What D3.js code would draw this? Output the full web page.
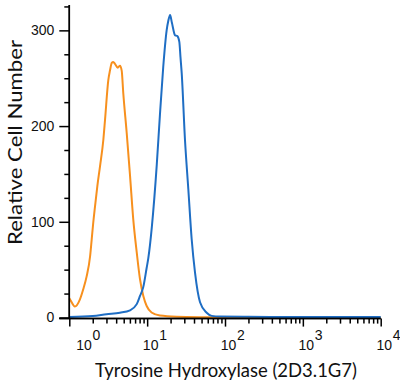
<!DOCTYPE html>
<html>
<head>
<meta charset="utf-8">
<script src="https://cdn.jsdelivr.net/npm/d3@7"></script>
<style>
  html, body { margin: 0; padding: 0; background: #fff; }
  svg { display: block; }
</style>
</head>
<body>
<svg id="chart" width="400" height="387"></svg>
<script>
// ---- Data (fluorescence intensity, relative cell number) ----
const isotypeX = [1.0, 1.02, 1.18, 1.37, 1.51, 1.67, 1.85, 1.94, 2.03, 2.14, 2.29, 2.48, 2.74, 2.88, 3.17, 3.33, 3.51, 3.67, 3.86, 4.19, 4.48, 4.71, 4.94, 5.46, 6.03, 6.64, 7.35, 8.09, 8.93, 9.86, 11.4, 14.6, 24, 58, 160, 1000, 10000];
const isotypeY = [20, 19, 11.5, 19, 29.5, 43, 64, 81.7, 99, 116, 137, 158, 186, 207, 248, 258, 266, 267, 265, 261, 263, 258, 234, 193, 148, 102, 68, 40, 22.5, 12, 5.2, 2, 0.8, 0.3, 0, 0, 0];

const antibodyX = [1.0, 2.0, 3.0, 4.47, 6.03, 7.35, 8.09, 8.93, 9.86, 10.35, 11.5, 13.3, 14.6, 16.1, 17.8, 18.7, 19.7, 20.8, 22.8, 24.4, 25.9, 26.8, 27.8, 30.6, 33.8, 37.3, 41.2, 47.8, 58.2, 67.5, 86.3, 200, 1000, 10000];
const antibodyY = [0.5, 1.5, 3.4, 5, 7.5, 14, 22.5, 32, 52, 62, 95, 160, 212, 262, 300, 310, 316, 308, 295, 294, 288, 272, 255, 186, 134, 82, 47, 16, 5, 1.7, 1, 0.8, 0.5, 0.5];

const xMajorTicks = [1, 10, 100, 1000, 10000];
const xTickExponents = ["0", "1", "2", "3", "4"];
const yMajorTicks = [0, 100, 200, 300];
const yMinorTicks = [25, 50, 75, 125, 150, 175, 225, 250, 275, 325];

const xTitle = "Tyrosine Hydroxylase (2D3.1G7)";
const yTitle = "Relative Cell Number";

// ---- Drawing ----
const svg = d3.select("#chart");
const mLeft = 69.3, mRight = 380.7, mTop = 5, mBottom = 317.5, axisY = 318.6;

const x = d3.scaleLog().domain([1, 10000]).range([mLeft, mRight]);
const y = d3.scaleLinear().domain([0, 326.5]).range([mBottom, mTop]);

const xMinor = [];
for (let d = 1; d < 10000; d *= 10) for (let k = 2; k <= 9; k++) xMinor.push(d * k);

const line = d3.line()
  .x(d => x(d[0])).y(d => y(d[1]))
  .curve(d3.curveMonotoneX);

svg.append("path")
  .datum(isotypeX.map((v, i) => [v, isotypeY[i]]))
  .attr("d", line).attr("fill", "none")
  .attr("stroke", "#f7901e").attr("stroke-width", 2)
  .attr("stroke-linejoin", "round");

svg.append("path")
  .datum(antibodyX.map((v, i) => [v, antibodyY[i]]))
  .attr("d", line).attr("fill", "none")
  .attr("stroke", "#1f6ec4").attr("stroke-width", 2)
  .attr("stroke-linejoin", "round");

// y axis
const gy = svg.append("g").attr("transform", `translate(${mLeft},0)`);
gy.call(d3.axisLeft(y).tickValues(yMinorTicks).tickSize(5).tickSizeOuter(0).tickFormat(""));
gy.append("g").call(d3.axisLeft(y).tickValues(yMajorTicks).tickSize(10).tickSizeOuter(0).tickPadding(5));
gy.selectAll("path.domain").attr("d", `M0,${mTop}V${axisY}`);
gy.selectAll("path, line").attr("stroke", "#000").attr("stroke-width", 1.5);
gy.selectAll("text").attr("font-family", "Liberation Sans, Arial, sans-serif")
  .attr("font-size", 14).attr("fill", "#111");

// x axis
const gx = svg.append("g").attr("transform", `translate(0,${axisY})`);
gx.call(d3.axisBottom(x).tickValues(xMinor).tickSize(5).tickSizeOuter(0).tickFormat(""));
gx.append("g").call(d3.axisBottom(x).tickValues(xMajorTicks).tickSize(8).tickSizeOuter(0).tickFormat(""));
gx.selectAll("path.domain").attr("d", `M${mLeft - 10},0H${mRight}`);
gx.selectAll("path, line").attr("stroke", "#000").attr("stroke-width", 1.5);

// x tick labels 10^n
const lab = svg.append("g").attr("font-family", "Liberation Sans, Arial, sans-serif")
  .attr("font-size", 14).attr("fill", "#111");
xMajorTicks.forEach((v, i) => {
  const cx = Math.max(x(v) + 3.5, 84);
  lab.append("text").attr("x", cx).attr("y", 350).attr("text-anchor", "middle").text("10");
  lab.append("text").attr("x", cx + 8.5).attr("y", 340).text(xTickExponents[i]);
});

// titles
svg.append("text")
  .attr("x", 226).attr("y", 377).attr("text-anchor", "middle")
  .attr("font-family", "Lato, 'Open Sans', sans-serif").attr("font-size", 18.5)
  .attr("textLength", 262).attr("lengthAdjust", "spacingAndGlyphs")
  .attr("fill", "#111").text(xTitle);

svg.append("text")
  .attr("transform", "translate(22,142.5) rotate(-90)").attr("text-anchor", "middle")
  .attr("font-family", "Lato, 'Open Sans', sans-serif").attr("font-size", 19)
  .attr("textLength", 205).attr("lengthAdjust", "spacingAndGlyphs")
  .attr("fill", "#111").text(yTitle);
</script>
</body>
</html>
